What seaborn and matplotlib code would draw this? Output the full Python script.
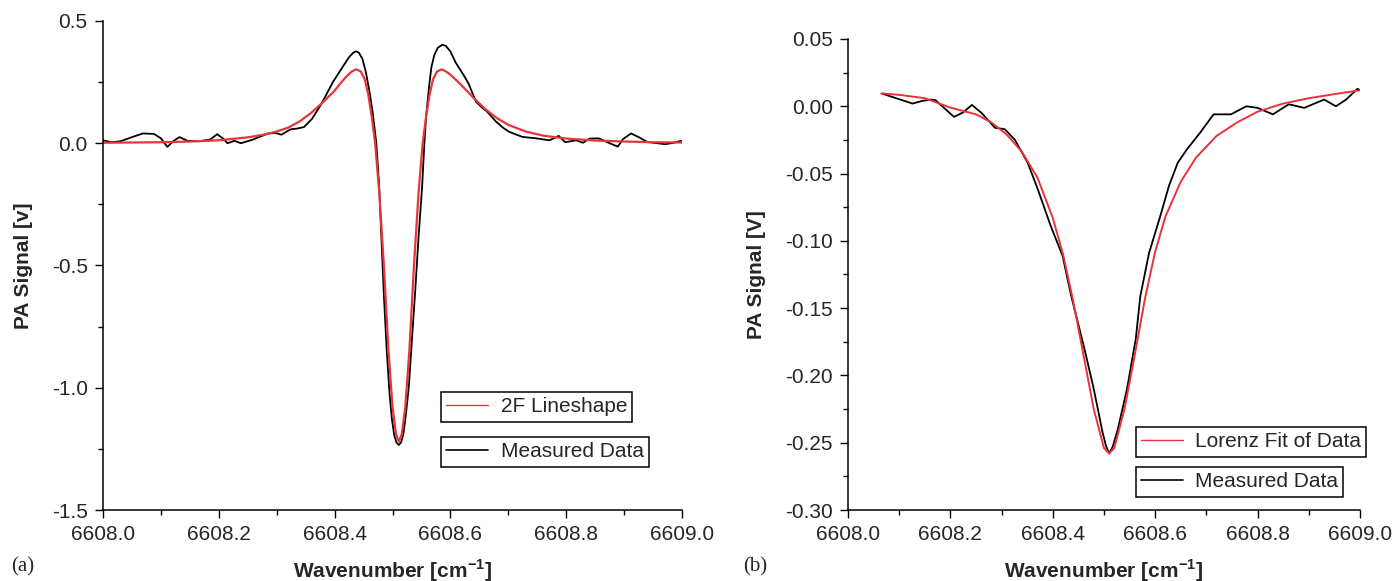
import numpy as np
import pandas as pd
import seaborn as sns
import matplotlib.pyplot as plt
from matplotlib.ticker import MultipleLocator, FormatStrFormatter

# (a) 2f measured signal and 2F lineshape
wn_a_meas = [6608.000, 6608.015, 6608.030, 6608.050, 6608.069, 6608.088, 6608.100, 6608.111,
             6608.122, 6608.132, 6608.146, 6608.165, 6608.185, 6608.197, 6608.207, 6608.215,
             6608.227, 6608.238, 6608.259, 6608.285, 6608.298, 6608.308, 6608.324, 6608.335,
             6608.347, 6608.361, 6608.377, 6608.397, 6608.416, 6608.425, 6608.432, 6608.437,
             6608.442, 6608.448, 6608.454, 6608.461, 6608.466, 6608.472, 6608.477, 6608.481,
             6608.485, 6608.490, 6608.495, 6608.499, 6608.503, 6608.507, 6608.511, 6608.515,
             6608.519, 6608.523, 6608.528, 6608.533, 6608.539, 6608.545, 6608.551, 6608.555,
             6608.558, 6608.563, 6608.567, 6608.572, 6608.578, 6608.586, 6608.592, 6608.600,
             6608.609, 6608.625, 6608.632, 6608.644, 6608.655, 6608.663, 6608.678, 6608.690,
             6608.701, 6608.724, 6608.748, 6608.771, 6608.787, 6608.798, 6608.817, 6608.829,
             6608.840, 6608.856, 6608.871, 6608.889, 6608.898, 6608.912, 6608.925, 6608.940,
             6608.971, 6608.986, 6608.998]
sig_a_meas = [0.012, 0.004, 0.008, 0.025, 0.040, 0.038, 0.020, -0.015,
              0.010, 0.025, 0.010, 0.008, 0.015, 0.037, 0.020, 0.000,
              0.010, 0.000, 0.015, 0.040, 0.042, 0.035, 0.057, 0.060,
              0.066, 0.100, 0.160, 0.250, 0.320, 0.352, 0.370, 0.376,
              0.370, 0.345, 0.290, 0.200, 0.120, 0.000, -0.180, -0.400,
              -0.620, -0.850, -1.030, -1.130, -1.195, -1.225, -1.234, -1.222,
              -1.185, -1.110, -1.000, -0.820, -0.610, -0.380, -0.180, 0.000,
              0.110, 0.230, 0.310, 0.360, 0.390, 0.403, 0.398, 0.375,
              0.330, 0.270, 0.240, 0.170, 0.145, 0.130, 0.090, 0.065,
              0.047, 0.026, 0.020, 0.012, 0.030, 0.004, 0.012, 0.002,
              0.019, 0.020, 0.004, -0.014, 0.017, 0.040, 0.025, 0.005,
              -0.004, 0.002, 0.010]

wn_a_fit = [6608.000, 6608.050, 6608.100, 6608.150, 6608.200, 6608.250, 6608.280, 6608.300,
            6608.320, 6608.340, 6608.360, 6608.380, 6608.400, 6608.410, 6608.420, 6608.430,
            6608.437, 6608.445, 6608.452, 6608.458, 6608.464, 6608.470, 6608.477, 6608.485,
            6608.493, 6608.500, 6608.506, 6608.511, 6608.516, 6608.522, 6608.529, 6608.537,
            6608.545, 6608.552, 6608.558, 6608.564, 6608.570, 6608.577, 6608.585, 6608.592,
            6608.600, 6608.610, 6608.620, 6608.640, 6608.660, 6608.680, 6608.700, 6608.730,
            6608.760, 6608.800, 6608.850, 6608.900, 6608.950, 6609.000]
sig_a_fit = [0.002, 0.003, 0.004, 0.007, 0.012, 0.024, 0.036, 0.048,
             0.064, 0.090, 0.125, 0.168, 0.215, 0.245, 0.272, 0.294,
             0.302, 0.294, 0.262, 0.200, 0.110, 0.000, -0.200, -0.500,
             -0.850, -1.080, -1.190, -1.220, -1.190, -1.080, -0.850, -0.500,
             -0.200, 0.000, 0.110, 0.200, 0.262, 0.294, 0.302, 0.294,
             0.280, 0.258, 0.235, 0.185, 0.140, 0.103, 0.075, 0.048,
             0.031, 0.019, 0.011, 0.007, 0.004, 0.003]

# (b) direct absorption signal and Lorentz fit
wn_b_meas = [6608.067, 6608.090, 6608.110, 6608.126, 6608.145, 6608.162, 6608.171, 6608.190,
             6608.207, 6608.225, 6608.242, 6608.261, 6608.287, 6608.306, 6608.326, 6608.351,
             6608.371, 6608.396, 6608.419, 6608.436, 6608.462, 6608.480, 6608.497, 6608.504,
             6608.510, 6608.517, 6608.527, 6608.545, 6608.562, 6608.571, 6608.588, 6608.610,
             6608.627, 6608.644, 6608.662, 6608.688, 6608.714, 6608.748, 6608.778, 6608.800,
             6608.830, 6608.861, 6608.891, 6608.930, 6608.953, 6608.973, 6608.995, 6609.000]
sig_b_meas = [0.0094, 0.0065, 0.0040, 0.0020, 0.0040, 0.0050, 0.0045, -0.0020,
              -0.0079, -0.0045, 0.0010, -0.0050, -0.0160, -0.0170, -0.0250, -0.0420,
              -0.0620, -0.0890, -0.1110, -0.1410, -0.1805, -0.2100, -0.2420, -0.2525,
              -0.2580, -0.2530, -0.2400, -0.2100, -0.1730, -0.1410, -0.1090, -0.0815,
              -0.0590, -0.0420, -0.0320, -0.0195, -0.0060, -0.0060, 0.0000, -0.0012,
              -0.0060, 0.0015, -0.0012, 0.0050, 0.0000, 0.0050, 0.0130, 0.0120]

wn_b_fit = [6608.065, 6608.100, 6608.150, 6608.200, 6608.250, 6608.280, 6608.310, 6608.340,
            6608.370, 6608.400, 6608.420, 6608.440, 6608.460, 6608.480, 6608.500, 6608.510,
            6608.520, 6608.540, 6608.560, 6608.580, 6608.600, 6608.620, 6608.650, 6608.680,
            6608.720, 6608.760, 6608.800, 6608.850, 6608.900, 6608.950, 6609.000]
sig_b_fit = [0.0095, 0.0085, 0.0060, -0.0010, -0.0060, -0.0120, -0.0210, -0.0340,
             -0.0530, -0.0830, -0.1100, -0.1450, -0.1850, -0.2250, -0.2540, -0.2580,
             -0.2540, -0.2250, -0.1850, -0.1430, -0.1080, -0.0820, -0.0560, -0.0380,
             -0.0220, -0.0120, -0.0040, 0.0020, 0.0060, 0.0090, 0.0119]

RED = '#e8333b'
FS = 15

sns.set_style('ticks')
plt.rcParams['font.family'] = ['Liberation Sans', 'DejaVu Sans']
plt.rcParams['axes.unicode_minus'] = False
plt.rcParams['mathtext.fontset'] = 'custom'
plt.rcParams['mathtext.rm'] = 'Liberation Sans:bold'
plt.rcParams['mathtext.bf'] = 'Liberation Sans:bold'

fig = plt.figure(figsize=(13.92, 5.81), dpi=100)
ax_a = fig.add_axes([0.074, 0.1222, 0.416, 0.8417])
ax_b = fig.add_axes([0.6092, 0.1222, 0.3678, 0.8107])

df_a_meas = pd.DataFrame({'wn': wn_a_meas, 'sig': sig_a_meas})
df_a_fit = pd.DataFrame({'wn': wn_a_fit, 'sig': sig_a_fit})
df_b_meas = pd.DataFrame({'wn': wn_b_meas, 'sig': sig_b_meas})
df_b_fit = pd.DataFrame({'wn': wn_b_fit, 'sig': sig_b_fit})

sns.lineplot(data=df_a_meas, x='wn', y='sig', ax=ax_a, color='black', lw=1.3,
             sort=False, estimator=None)
sns.lineplot(data=df_a_fit, x='wn', y='sig', ax=ax_a, color=RED, lw=1.6,
             sort=False, estimator=None)
sns.lineplot(data=df_b_meas, x='wn', y='sig', ax=ax_b, color='black', lw=1.3,
             sort=False, estimator=None)
sns.lineplot(data=df_b_fit, x='wn', y='sig', ax=ax_b, color=RED, lw=1.4,
             sort=False, estimator=None)


def style_axis(ax, ylim, ymaj, ymin, yfmt, ylabel):
    ax.set_xlim(6608.0, 6609.0)
    ax.set_ylim(*ylim)
    ax.xaxis.set_major_locator(MultipleLocator(0.2))
    ax.xaxis.set_minor_locator(MultipleLocator(0.1))
    ax.yaxis.set_major_locator(MultipleLocator(ymaj))
    ax.yaxis.set_minor_locator(MultipleLocator(ymin))
    ax.xaxis.set_major_formatter(FormatStrFormatter('%.1f'))
    ax.yaxis.set_major_formatter(FormatStrFormatter(yfmt))
    ax.tick_params(which='major', direction='out', length=6, width=1, labelsize=FS,
                   color='black', pad=5)
    ax.tick_params(which='minor', direction='out', length=3.5, width=1, color='black')
    for s in ['left', 'bottom']:
        ax.spines[s].set_color('black')
        ax.spines[s].set_linewidth(1.1)
    sns.despine(ax=ax)
    ax.set_xlabel(r'Wavenumber [cm$^{-1}$]', fontsize=FS, fontweight='bold')
    ax.set_ylabel(ylabel, fontsize=FS, fontweight='bold')


style_axis(ax_a, (-1.5, 0.5), 0.5, 0.25, '%.1f', 'PA Signal [v]')
style_axis(ax_b, (-0.30, 0.05), 0.05, 0.025, '%.2f', 'PA Signal [V]')

ax_a.xaxis.set_label_coords(0.5, -0.096)
ax_a.yaxis.set_label_coords(-0.121, 0.5)
ax_b.xaxis.set_label_coords(0.5, -0.100)
ax_b.yaxis.set_label_coords(-0.16, 0.5)


def two_legends(ax, fit_label, x0, y1, y2):
    fit_line = ax.lines[1]
    meas_line = ax.lines[0]
    kw = dict(loc='upper left', fontsize=FS, frameon=True, fancybox=False,
              edgecolor='black', framealpha=1, borderaxespad=0, borderpad=0.25,
              handlelength=2.0, handletextpad=0.6)
    leg1 = ax.legend([fit_line], [fit_label], bbox_to_anchor=(x0, y1), **kw)
    leg1.get_frame().set_linewidth(1.1)
    leg1.get_lines()[0].set_linewidth(1.0)
    ax.add_artist(leg1)
    leg2 = ax.legend([meas_line], ['Measured Data'], bbox_to_anchor=(x0, y2), **kw)
    leg2.get_frame().set_linewidth(1.1)
    leg2.get_lines()[0].set_linewidth(1.2)


two_legends(ax_a, '2F Lineshape', 0.584, 0.241, 0.149)
two_legends(ax_b, 'Lorenz Fit of Data', 0.562, 0.176, 0.091)

fig.text(0.008, 0.024, '(a)', family='Liberation Serif', fontsize=FS, va='center')
fig.text(0.534, 0.024, '(b)', family='Liberation Serif', fontsize=FS, va='center')

fig.savefig('out.png', dpi=100)
